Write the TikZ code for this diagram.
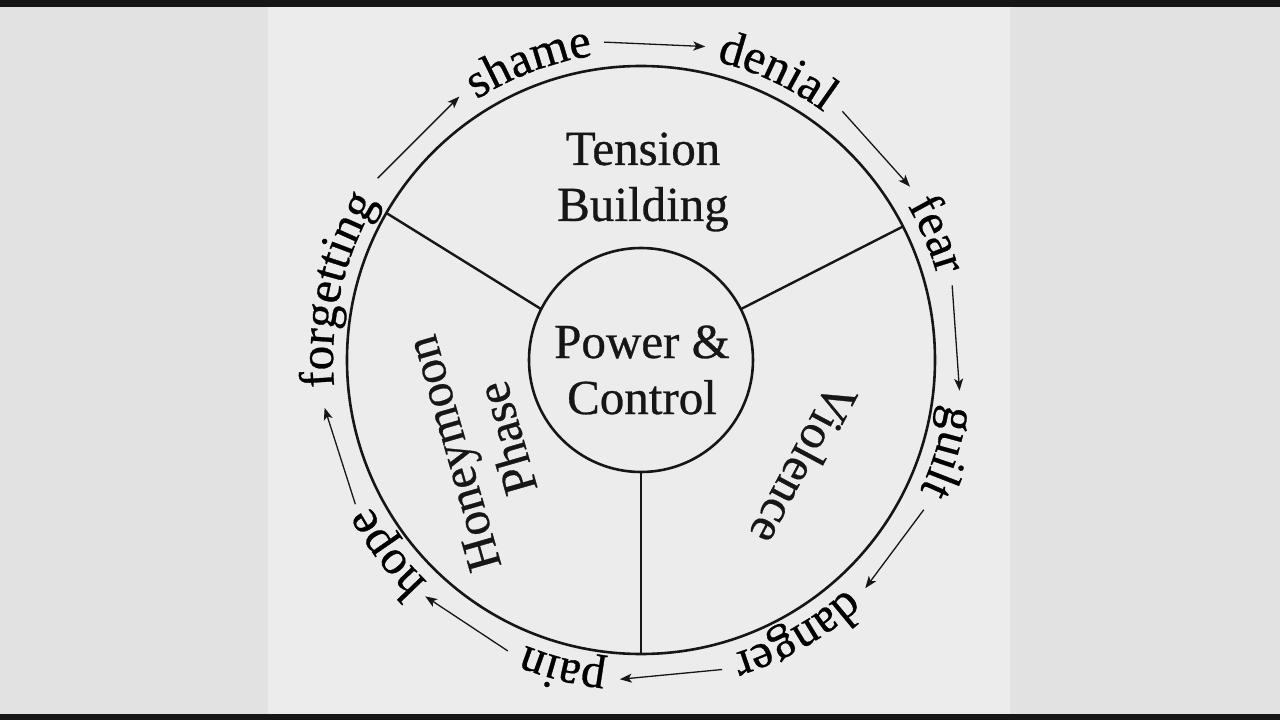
\documentclass[tikz,border=0pt]{standalone}
\usepackage{fontspec}
\setmainfont[FakeBold=0.6]{Liberation Serif}
\usetikzlibrary{arrows.meta, decorations.text}
\definecolor{ink}{HTML}{161616}
\definecolor{panel}{HTML}{ECECEC}
\definecolor{side}{HTML}{E2E2E2}
\definecolor{bar}{HTML}{161616}
\newcommand{\cyclefont}{\fontsize{49}{56}\selectfont}

\begin{document}
\begin{tikzpicture}[x=1pt, y=1pt, color=ink, font=\cyclefont,
  ring/.style={circle, draw=ink, line width=2.6pt, outer sep=0pt, inner sep=0pt},
  spoke/.style={draw=ink, line width=2.4pt},
  phase/.style={align=center, inner sep=0pt},
  a/.style={-{Stealth[length=12pt, width=9pt, inset=3pt]}, draw=ink, line width=1.3pt},
  rimword/.style={decorate, decoration={text along path, text align=center,
                  text={|\cyclefont|#1}}}]
\useasboundingbox (-641,-360) rectangle (639,360);
\fill[side] (-641,-360) rectangle (639,360);
\fill[panel] (-373,-354) rectangle (369,353);
\fill[bar] (-641,353) rectangle (639,360);
\fill[bar] (-641,-360) rectangle (639,-354);

\node[ring, minimum size=588pt] (rim) at (0,0) {};
\node[ring, minimum size=224pt] (core) at (0,0) {};
\draw[spoke] (core.153) -- (rim.150);
\draw[spoke] (core.27) -- (rim.27);
\draw[spoke] (core.270) -- (rim.270);

\node[phase] (tension) at (2,178) {Tension\\Building};
\node[phase] (power) at (1,-10) {Power \&\\Control};
\node[phase, rotate=106] (honey) at (-161,-86) {Honeymoon\\Phase};
\node[phase, rotate=-118] (violence) at (163,-104) {Violence};

\path[rimword=shame] (150.6:308pt) arc[start angle=150.6, end angle=70.6, radius=308pt];
\path[rimword=denial] (104.7:308pt) arc[start angle=104.7, end angle=24.7, radius=308pt];
\path[rimword=fear] (63:308pt) arc[start angle=63, end angle=-17, radius=308pt];
\path[rimword=guilt] (23.3:308pt) arc[start angle=23.3, end angle=-56.7, radius=308pt];
\path[rimword=danger] (-20.4:308pt) arc[start angle=-20.4, end angle=-100.4, radius=308pt];
\path[rimword=pain] (-64.2:308pt) arc[start angle=-64.2, end angle=-144.2, radius=308pt];
\path[rimword=hope] (-102.8:308pt) arc[start angle=-102.8, end angle=-182.8, radius=308pt];
\path[rimword=forgetting] (217:308pt) arc[start angle=217, end angle=117, radius=308pt];

\foreach \s/\e [count=\i] in {145.4/124.6, 96.6/78.4, 51/32.8, 13.5/-5.5,
    -27.9/-45.5, -75.3/-93.8, -114.6/-132.4, -153.2/-171.4} {
  \coordinate (s\i) at (\s:320pt);
  \coordinate (e\i) at (\e:320pt);
  \draw[a] (s\i) -- (e\i);
}
\end{tikzpicture}
\end{document}
